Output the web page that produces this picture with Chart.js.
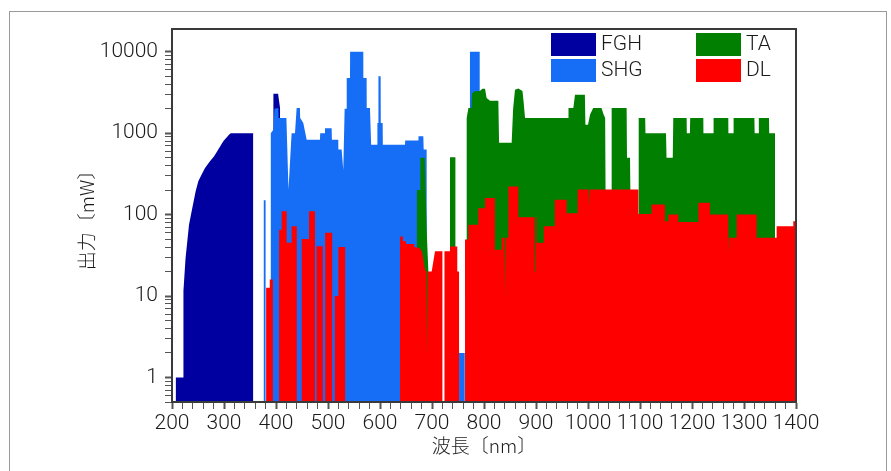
<!DOCTYPE html>
<html>
<head>
<meta charset="utf-8">
<script src="https://cdn.jsdelivr.net/npm/chart.js@4.4.0/dist/chart.umd.min.js"></script>
<style>
    html, body { margin: 0; padding: 0; background: #fff; }
    #wrap { position: relative; width: 891px; height: 471px; overflow: hidden; }
    #frame { position: absolute; left: 9px; top: 11px; width: 878px; height: 520px; border: 1px solid #9a9a9a; box-sizing: border-box; }
    canvas { position: absolute; left: 0; top: 0; }
</style>
</head>
<body>
<div id="wrap">
    <div id="frame"></div>
    <canvas id="myChart" width="891" height="471"></canvas>
</div>
<script>
// wavelength (nm), power (mW) pairs; 0.3 = below the axis
const fghSeries = [
    [207, 0.3], [207, 1], [221.5, 1], [222, 11.5], [226, 29], [232.7, 75], [237.8, 110],
    [245.5, 193], [250.6, 256], [257, 310], [263.5, 374], [273, 451], [281, 520], [289, 628],
    [298.6, 795], [309.6, 956], [313, 1000], [356, 1000], [356, 0.3],
    [395, 0.3], [395, 3050], [404, 3050], [408, 2000], [408, 0.3]
];
const shgSeries = [
    [376, 0.3], [376, 150], [380, 150], [380, 0.3],
    [390, 0.3], [390, 1000], [395, 1100], [397, 2000], [404.5, 2030], [405, 1540], [420, 1540],
    [424, 203], [430, 1000], [436.5, 1000], [439.7, 2030], [446, 2030], [446.5, 1540], [452.5, 1330],
    [459, 830], [484.6, 830], [485, 1000], [494, 1000], [494.2, 1150], [507, 1150], [507.5, 830],
    [519.8, 830], [520, 630], [526.2, 630], [529.4, 355], [532, 2000], [535.9, 2000], [536, 4750],
    [542.3, 4750], [542.5, 10000], [567.9, 10000], [568, 4750], [574.3, 4750], [574.5, 2030],
    [580.7, 2030], [583, 720], [594.8, 720],
    [595, 1330], [596.8, 1330], [597, 5000], [601.2, 5000], [601.5, 1330], [605.1, 1330], [605.5, 720],
    [648, 720], [648.5, 810], [673.7, 810], [674, 915], [683.3, 915], [684, 630], [689.7, 630], [690, 0.3],
    [752, 0.3], [752, 2], [763, 2], [763, 0.3],
    [773, 0.3], [773, 10000], [792, 10000], [792, 0.3]
];
const taSeries = [
    [670.5, 0.3], [670.5, 200], [677, 200], [677.5, 500], [686, 500], [690, 60], [693, 20], [693.5, 0.3],
    [734.6, 0.3], [734.6, 505], [745, 505], [745, 0.3],
    [766.7, 0.3], [766.7, 1540], [770, 2040], [776, 2040], [777, 3100], [782.7, 3260], [792, 3300],
    [797, 3500], [802, 3500], [805, 2700], [811.6, 2500], [827.6, 2500], [829, 760], [853.2, 760],
    [856, 2000], [859.6, 3400], [866, 3530], [874, 3300], [876, 2500], [878.9, 1540], [962.2, 1540],
    [962.5, 2030], [971.8, 2030], [975, 2970], [994, 2970], [995, 1270], [1000, 1270], [1004, 1700],
    [1010, 2030], [1026, 2030], [1030, 1700], [1033, 1540], [1034, 100], [1045, 100], [1045.5, 2030],
    [1074.3, 2030], [1075, 500], [1080.8, 500], [1082, 100], [1097, 100], [1097.5, 1540], [1110, 1540],
    [1110.5, 1000], [1150, 1000], [1151, 500], [1163, 500], [1164, 1540], [1189.7, 1540], [1190, 1000],
    [1196, 1000], [1196.5, 1540], [1221.8, 1540], [1222, 1000], [1241, 1000], [1241.5, 1540],
    [1269.8, 1540], [1270, 1000], [1279.5, 1000], [1280, 1540], [1320, 1540], [1320.5, 1000],
    [1328, 1000], [1328.5, 1540], [1348, 1540], [1348.5, 1000], [1359.6, 1000], [1360, 0.3]
];
const dlSeries = [
    [381, 0.3], [381, 12.6], [388, 12.6], [388, 16], [394, 16], [394, 0.3],
    [406, 0.3], [406, 65], [411, 65], [411, 110], [420.5, 110], [420.5, 45], [430, 45], [430, 72], [440, 72], [440, 0.3],
    [449.5, 0.3], [449.5, 50], [463.5, 50], [463.5, 110], [475, 110], [475, 0.3], [478, 0.3], [478, 41],
    [490, 41], [490, 0.3], [494.5, 0.3], [494.5, 60], [508, 60], [508, 0.3],
    [513, 0.3], [513, 10], [520, 10], [520, 40], [533, 40], [533, 0.3],
    [638.5, 0.3], [638.5, 54], [644, 54], [644, 47], [650, 47], [650, 43.6], [666, 43.6], [666, 40],
    [676, 39], [681, 35], [686, 22], [688.5, 20], [689.2, 1.8], [690.2, 1.8], [691, 20], [699.4, 20],
    [705.8, 35.5], [720, 35.5], [720, 0.3], [724, 0.3], [724, 35.5], [734.6, 35.5], [734.6, 40.7],
    [748.6, 40.7], [748.6, 20], [752, 20], [752, 0.3],
    [763.5, 0.3], [763.5, 49.5], [770, 49.5], [770, 75], [789, 75], [789, 120], [802, 120], [802, 160],
    [821, 160], [821, 37], [834, 37], [834, 52], [840.3, 52], [841, 10], [842, 10], [842.7, 52],
    [846.8, 52], [846.8, 222], [866, 222], [866, 93], [897, 93], [897.7, 20], [898.7, 20], [899.4, 93],
    [901, 93], [901, 45], [915, 45], [915, 72], [936, 72], [936, 152], [959, 152], [959, 104],
    [980, 104], [980, 203], [1001.8, 203], [1002.4, 126], [1003.4, 126], [1004, 203], [1097, 203],
    [1097, 102], [1122.3, 102], [1122.3, 133], [1148, 133], [1148, 83], [1154.5, 83], [1154.5, 100],
    [1173.7, 100], [1173.7, 81], [1212.2, 81], [1212.2, 140], [1234.6, 140], [1234.6, 100],
    [1269.5, 100], [1269.8, 35], [1270.8, 35], [1271.2, 52], [1285.9, 52], [1285.9, 100],
    [1324.3, 100], [1324.3, 52], [1362.8, 52], [1362.8, 72], [1394.8, 72], [1394.8, 83], [1400, 83]
];
const seriesNames = ['FGH', 'SHG', 'TA', 'DL'];
const seriesColors = ['#0000a0', '#166ef6', '#007f00', '#ff0000'];
// lower order is painted on top: DL in front, FGH at the back
const seriesOrder = [3, 2, 1, 0];
const xTickValues = [];
for (let v = 200; v <= 1400; v += 20) xTickValues.push(v);
const yTickValues = [];
for (let e = -1; e <= 4; e++) {
    for (let m = 1; m <= 9; m++) {
        const v = Math.round(m * Math.pow(10, e) * 10) / 10;
        if (v >= 0.5 && v <= 19000) yTickValues.push(v);
    }
}

const isDecade = (v) => Math.abs(Math.log10(v) - Math.round(Math.log10(v))) < 1e-9;
const toPoints = (rows) => rows.map(r => ({ x: r[0], y: r[1] }));

const tickFont = { family: "Roboto, 'DejaVu Sans', sans-serif", size: 21, weight: '300' };
const titleFont = { family: "'Noto Sans CJK JP', sans-serif", size: 19, weight: '300' };

const legendPlugin = {
    id: 'gridLegend',
    afterDraw(chart) {
        const ctx = chart.ctx;
        const area = chart.chartArea;
        ctx.save();
        ctx.strokeStyle = '#3a3a3a';
        ctx.lineWidth = 2;
        ctx.strokeRect(area.left, area.top, area.right - area.left, area.bottom - area.top);
        const slots = [[551, 33], [551, 59], [696, 33], [696, 59]];
        chart.data.datasets.forEach((ds, i) => {
            const [sx, sy] = slots[i];
            ctx.fillStyle = ds.backgroundColor;
            ctx.fillRect(sx, sy, 45, 23);
            ctx.fillStyle = '#1a1a1a';
            ctx.font = "300 21px Roboto, 'DejaVu Sans', sans-serif";
            ctx.textBaseline = 'middle';
            ctx.textAlign = 'left';
            ctx.fillText(ds.label, sx + 50, sy + 12);
        });
        ctx.restore();
    }
};

const allSeries = [fghSeries, shgSeries, taSeries, dlSeries];
const ctx = document.getElementById('myChart').getContext('2d');
const myChart = new Chart(ctx, {
    type: 'line',
    data: {
        datasets: allSeries.map((rows, i) => ({
            label: seriesNames[i],
            data: toPoints(rows),
            order: seriesOrder[i],
            backgroundColor: seriesColors[i],
            borderColor: 'rgba(0,0,0,0)',
            borderWidth: 1,
            pointRadius: 0,
            tension: 0,
            fill: 'start'
        }))
    },
    options: {
        responsive: false,
        animation: false,
        devicePixelRatio: 1,
        layout: { padding: { left: 0, top: 29, right: 95, bottom: 0 } },
        plugins: {
            legend: { display: false },
            tooltip: { enabled: false }
        },
        scales: {
            x: {
                type: 'linear',
                min: 200,
                max: 1400,
                afterBuildTicks: (scale) => { scale.ticks = xTickValues.map(v => ({ value: v })); },
                afterFit: (scale) => { scale.height = 69; },
                border: { display: true, color: '#3a3a3a', width: 2 },
                grid: {
                    drawOnChartArea: false,
                    drawTicks: true,
                    tickLength: 7,
                    tickColor: '#555',
                    tickWidth: (c) => (c.tick && c.tick.value % 100 === 0 ? 2 : 1)
                },
                ticks: {
                    autoSkip: false,
                    maxRotation: 0,
                    minRotation: 0,
                    padding: 2,
                    color: '#1a1a1a',
                    font: tickFont,
                    callback: (v) => (v % 100 === 0 ? String(v) : '')
                },
                title: {
                    display: true,
                    text: '波長〔nm〕',
                    color: '#1a1a1a',
                    font: titleFont,
                    padding: { top: 0, bottom: 14 }
                }
            },
            y: {
                type: 'logarithmic',
                min: 0.5,
                max: 19000,
                afterBuildTicks: (scale) => { scale.ticks = yTickValues.map(v => ({ value: v })); },
                afterFit: (scale) => { scale.width = 172; },
                border: { display: true, color: '#3a3a3a', width: 2 },
                grid: {
                    drawOnChartArea: false,
                    drawTicks: true,
                    tickLength: 7,
                    tickColor: '#555',
                    tickWidth: (c) => (c.tick && isDecade(c.tick.value) ? 2 : 1)
                },
                ticks: {
                    autoSkip: false,
                    padding: 7,
                    color: '#1a1a1a',
                    font: tickFont,
                    callback: (v) => (isDecade(v) ? String(v) : '')
                },
                title: {
                    display: true,
                    text: '出力〔mW〕',
                    color: '#1a1a1a',
                    font: titleFont,
                    padding: { top: 75, bottom: 0 }
                }
            }
        }
    },
    plugins: [legendPlugin]
});
</script>
</body>
</html>
